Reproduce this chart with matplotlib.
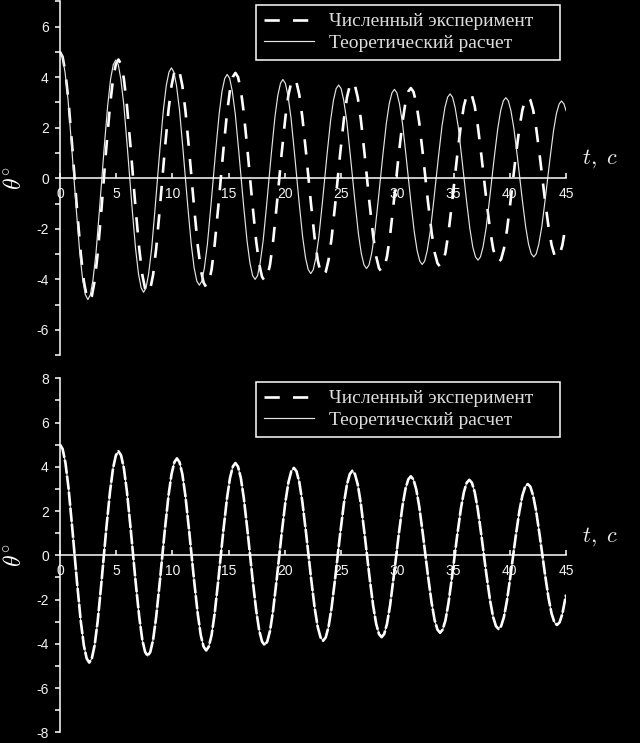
import matplotlib
matplotlib.use('Agg')
import matplotlib.pyplot as plt
import matplotlib.transforms as mtransforms
from matplotlib.lines import Line2D
from matplotlib.ticker import FixedLocator
from matplotlib.font_manager import FontProperties

plt.rcParams['mathtext.fontset'] = 'cm'
plt.rcParams['lines.scale_dashes'] = False
plt.rcParams['axes.unicode_minus'] = False

# ---------------- data ----------------
t_theory = [
    0.00, 0.22, 0.45, 0.72, 1.03, 1.45, 1.76, 2.02, 2.26,
    2.48, 2.70, 2.93, 3.20, 3.51, 3.93, 4.24, 4.50, 4.74,
    4.96, 5.18, 5.41, 5.68, 5.99, 6.41, 6.72, 6.98, 7.22,
    7.43, 7.65, 7.88, 8.15, 8.46, 8.88, 9.19, 9.45, 9.69,
    9.91, 10.13, 10.36, 10.63, 10.94, 11.36, 11.67, 11.93, 12.17,
    12.39, 12.61, 12.84, 13.11, 13.42, 13.84, 14.15, 14.41, 14.65,
    14.87, 15.09, 15.32, 15.59, 15.90, 16.32, 16.63, 16.89, 17.13,
    17.35, 17.57, 17.80, 18.07, 18.38, 18.80, 19.11, 19.37, 19.61,
    19.82, 20.04, 20.27, 20.54, 20.85, 21.27, 21.58, 21.84, 22.08,
    22.30, 22.52, 22.75, 23.02, 23.33, 23.75, 24.06, 24.32, 24.56,
    24.78, 25.00, 25.23, 25.50, 25.81, 26.23, 26.54, 26.80, 27.04,
    27.26, 27.48, 27.71, 27.98, 28.29, 28.71, 29.02, 29.28, 29.52,
    29.74, 29.96, 30.19, 30.46, 30.77, 31.19, 31.50, 31.76, 32.00,
    32.21, 32.43, 32.66, 32.93, 33.24, 33.66, 33.97, 34.23, 34.47,
    34.69, 34.91, 35.14, 35.41, 35.72, 36.14, 36.45, 36.71, 36.95,
    37.17, 37.39, 37.62, 37.89, 38.20, 38.62, 38.93, 39.19, 39.43,
    39.65, 39.87, 40.10, 40.37, 40.68, 41.10, 41.41, 41.67, 41.91,
    42.13, 42.35, 42.58, 42.85, 43.16, 43.58, 43.89, 44.15, 44.39,
    44.60, 44.82, 45.00,
]
theta_theory = [
    5.00, 4.81, 4.19, 3.08, 1.29, -1.24, -2.96, -4.03, -4.61,
    -4.80, -4.61, -4.03, -2.96, -1.24, 1.21, 2.88, 3.93, 4.50,
    4.68, 4.50, 3.93, 2.88, 1.21, -1.17, -2.78, -3.78, -4.34,
    -4.51, -4.34, -3.78, -2.78, -1.17, 1.13, 2.69, 3.67, 4.20,
    4.37, 4.20, 3.67, 2.69, 1.13, -1.09, -2.60, -3.55, -4.07,
    -4.23, -4.07, -3.55, -2.60, -1.09, 1.06, 2.53, 3.45, 3.95,
    4.11, 3.95, 3.45, 2.53, 1.06, -1.04, -2.46, -3.35, -3.85,
    -4.00, -3.85, -3.35, -2.46, -1.04, 1.01, 2.41, 3.28, 3.76,
    3.91, 3.76, 3.28, 2.41, 1.01, -0.98, -2.32, -3.16, -3.62,
    -3.77, -3.62, -3.16, -2.32, -0.98, 0.95, 2.27, 3.09, 3.55,
    3.69, 3.55, 3.09, 2.27, 0.95, -0.92, -2.20, -2.99, -3.43,
    -3.57, -3.43, -2.99, -2.20, -0.92, 0.91, 2.17, 2.95, 3.38,
    3.52, 3.38, 2.95, 2.17, 0.91, -0.88, -2.10, -2.86, -3.28,
    -3.41, -3.28, -2.86, -2.10, -0.88, 0.86, 2.06, 2.80, 3.21,
    3.34, 3.21, 2.80, 2.06, 0.86, -0.84, -1.99, -2.72, -3.11,
    -3.24, -3.11, -2.72, -1.99, -0.84, 0.83, 1.96, 2.68, 3.07,
    3.19, 3.07, 2.68, 1.96, 0.83, -0.80, -1.91, -2.61, -2.99,
    -3.11, -2.99, -2.61, -1.91, -0.80, 0.79, 1.88, 2.57, 2.94,
    3.06, 2.94, 2.68,
]

t_num = [
    0.00, 0.23, 0.48, 0.75, 1.08, 1.52, 1.85, 2.12, 2.37,
    2.60, 2.83, 3.08, 3.35, 3.68, 4.12, 4.45, 4.72, 4.97,
    5.20, 5.43, 5.68, 5.95, 6.28, 6.72, 7.05, 7.32, 7.57,
    7.80, 8.03, 8.28, 8.55, 8.88, 9.32, 9.65, 9.92, 10.17,
    10.40, 10.63, 10.88, 11.15, 11.48, 11.92, 12.25, 12.52, 12.77,
    13.00, 13.23, 13.48, 13.75, 14.08, 14.52, 14.85, 15.12, 15.37,
    15.60, 15.83, 16.08, 16.35, 16.68, 17.12, 17.45, 17.72, 17.97,
    18.20, 18.43, 18.68, 18.95, 19.28, 19.72, 20.05, 20.32, 20.57,
    20.80, 21.03, 21.28, 21.55, 21.88, 22.32, 22.65, 22.92, 23.17,
    23.40, 23.63, 23.88, 24.15, 24.48, 24.92, 25.25, 25.52, 25.77,
    26.00, 26.23, 26.48, 26.75, 27.08, 27.52, 27.85, 28.12, 28.37,
    28.60, 28.83, 29.08, 29.35, 29.68, 30.12, 30.45, 30.72, 30.97,
    31.20, 31.43, 31.68, 31.95, 32.28, 32.72, 33.05, 33.32, 33.57,
    33.80, 34.03, 34.28, 34.55, 34.88, 35.32, 35.65, 35.92, 36.17,
    36.40, 36.63, 36.88, 37.15, 37.48, 37.92, 38.25, 38.52, 38.77,
    39.00, 39.23, 39.48, 39.75, 40.08, 40.52, 40.85, 41.12, 41.37,
    41.60, 41.83, 42.08, 42.35, 42.68, 43.12, 43.45, 43.72, 43.97,
    44.20, 44.43, 44.68, 45.00,
]
theta_num = [
    5.00, 4.81, 4.19, 3.08, 1.29, -1.26, -2.99, -4.07, -4.66,
    -4.85, -4.66, -4.07, -2.99, -1.26, 1.22, 2.89, 3.94, 4.52,
    4.70, 4.52, 3.94, 2.89, 1.22, -1.18, -2.80, -3.82, -4.37,
    -4.55, -4.37, -3.82, -2.80, -1.18, 1.13, 2.70, 3.67, 4.21,
    4.38, 4.21, 3.67, 2.70, 1.13, -1.11, -2.65, -3.61, -4.13,
    -4.30, -4.13, -3.61, -2.65, -1.11, 1.08, 2.57, 3.50, 4.01,
    4.17, 4.01, 3.50, 2.57, 1.08, -1.05, -2.50, -3.41, -3.90,
    -4.06, -3.90, -3.41, -2.50, -1.05, 1.02, 2.43, 3.31, 3.80,
    3.95, 3.80, 3.31, 2.43, 1.02, -1.00, -2.38, -3.24, -3.71,
    -3.86, -3.71, -3.24, -2.38, -1.00, 0.99, 2.35, 3.20, 3.67,
    3.82, 3.67, 3.20, 2.35, 0.99, -0.96, -2.28, -3.10, -3.56,
    -3.70, -3.56, -3.10, -2.28, -0.96, 0.92, 2.20, 2.99, 3.43,
    3.57, 3.43, 2.99, 2.20, 0.92, -0.91, -2.15, -2.94, -3.36,
    -3.50, -3.36, -2.94, -2.15, -0.91, 0.88, 2.10, 2.86, 3.28,
    3.41, 3.28, 2.86, 2.10, 0.88, -0.86, -2.05, -2.79, -3.20,
    -3.33, -3.20, -2.79, -2.05, -0.86, 0.83, 1.98, 2.70, 3.10,
    3.22, 3.10, 2.70, 1.98, 0.83, -0.82, -1.94, -2.64, -3.03,
    -3.15, -3.03, -2.64, -1.79,
]

# corrected theory in the lower panel coincides with the experiment
t_theory_corr = list(t_num)
theta_theory_corr = list(theta_num)

x_ticks = [0, 5, 10, 15, 20, 25, 30, 35, 40, 45]
y_lim_top = 7
y_lim_bottom = 8
legend_labels = ['Численный эксперимент', 'Теоретический расчет']
y_label = r'$\theta^{\circ}$'
x_label = r'$t,\ c$'

# ---------------- figure ----------------
W, H = 640, 743
fig = plt.figure(figsize=(W / 100, H / 100), dpi=100, facecolor='black')
ax1 = fig.add_axes([60 / W, 1 - 355.2 / H, 506 / W, 353.8 / H])
ax2 = fig.add_axes([60 / W, 1 - 732.3 / H, 506 / W, 354.0 / H])

tick_font = FontProperties(family='Liberation Sans', size=10)
leg_font = FontProperties(family='Liberation Serif', size=14)
label_col = '#f2f2f2'
solid_col = '#e4e4e4'
dash_main = (11, 9.5)


def style(ax, ymax):
    ax.set_facecolor('black')
    ax.set_xlim(0, 45)
    ax.set_ylim(-ymax, ymax)
    for s in ('top', 'right'):
        ax.spines[s].set_visible(False)
    ax.spines['bottom'].set_position(('data', 0))
    for s in ('bottom', 'left'):
        ax.spines[s].set_color('white')
        ax.spines[s].set_linewidth(1.1)
    ax.set_xticks(x_ticks)
    ax.set_xticklabels([str(v) for v in x_ticks])
    major = [v for v in range(-ymax, ymax + 1) if v % 2 == 0]
    minor = [v for v in range(-ymax, ymax + 1) if v % 2 != 0]
    ax.set_yticks(major)
    ax.set_yticklabels([str(v) for v in major])
    ax.yaxis.set_minor_locator(FixedLocator(minor))
    ax.tick_params(axis='x', direction='in', length=3.6, width=1.1,
                   colors='white', labelcolor=label_col, pad=6.5)
    ax.tick_params(axis='y', which='both', direction='out', length=3.6,
                   width=1.1, colors='white', labelcolor=label_col, pad=4.5)
    for lab in ax.get_xticklabels() + ax.get_yticklabels():
        lab.set_fontproperties(tick_font)
    ax.set_ylabel(y_label, fontsize=17, color='white', rotation=90)
    ax.yaxis.set_label_coords(-0.068, 0.5)
    tr = mtransforms.blended_transform_factory(ax.transAxes, ax.transData)
    ax.text(1.032, 0.6, x_label, transform=tr, fontsize=16, color='#eeeeee',
            ha='left', va='baseline', clip_on=False)


style(ax1, y_lim_top)
style(ax2, y_lim_bottom)

# top panel
l_num, = ax1.plot(t_num, theta_num, color='white', lw=1.9, dashes=dash_main,
                  solid_capstyle='butt', dash_capstyle='butt')
l_th, = ax1.plot(t_theory, theta_theory, color=solid_col, lw=0.85)

# bottom panel
ax2.plot(t_theory_corr, theta_theory_corr, color=solid_col, lw=0.85)
ax2.plot(t_num, theta_num, color='white', lw=1.9, dashes=(10, 1.6),
         dash_capstyle='butt')

h_num = Line2D([], [], color='white', lw=1.9, dashes=dash_main, dash_capstyle='butt')
h_th = Line2D([], [], color=solid_col, lw=0.85)

for ax, top_px, ax_top, ax_h in ((ax1, 5, 1.4, 353.8), (ax2, 382, 378.3, 354.0)):
    x0 = (256 - 60) / 506
    w = (560 - 256) / 506
    ytop = 1 - (top_px - ax_top) / ax_h
    hh = 54 / ax_h
    leg = ax.legend([h_num, h_th], legend_labels, loc='upper left',
                    bbox_to_anchor=(x0, ytop - hh, w, hh), mode='expand',
                    frameon=True, fancybox=False, edgecolor='white',
                    facecolor='black', framealpha=1, prop=leg_font,
                    labelcolor='#dcdcdc', handlelength=2.6, handletextpad=0.75,
                    borderpad=0.4, labelspacing=0.2, borderaxespad=0)
    leg.get_frame().set_linewidth(1.1)

fig.savefig('out.png', dpi=100, facecolor='black')
